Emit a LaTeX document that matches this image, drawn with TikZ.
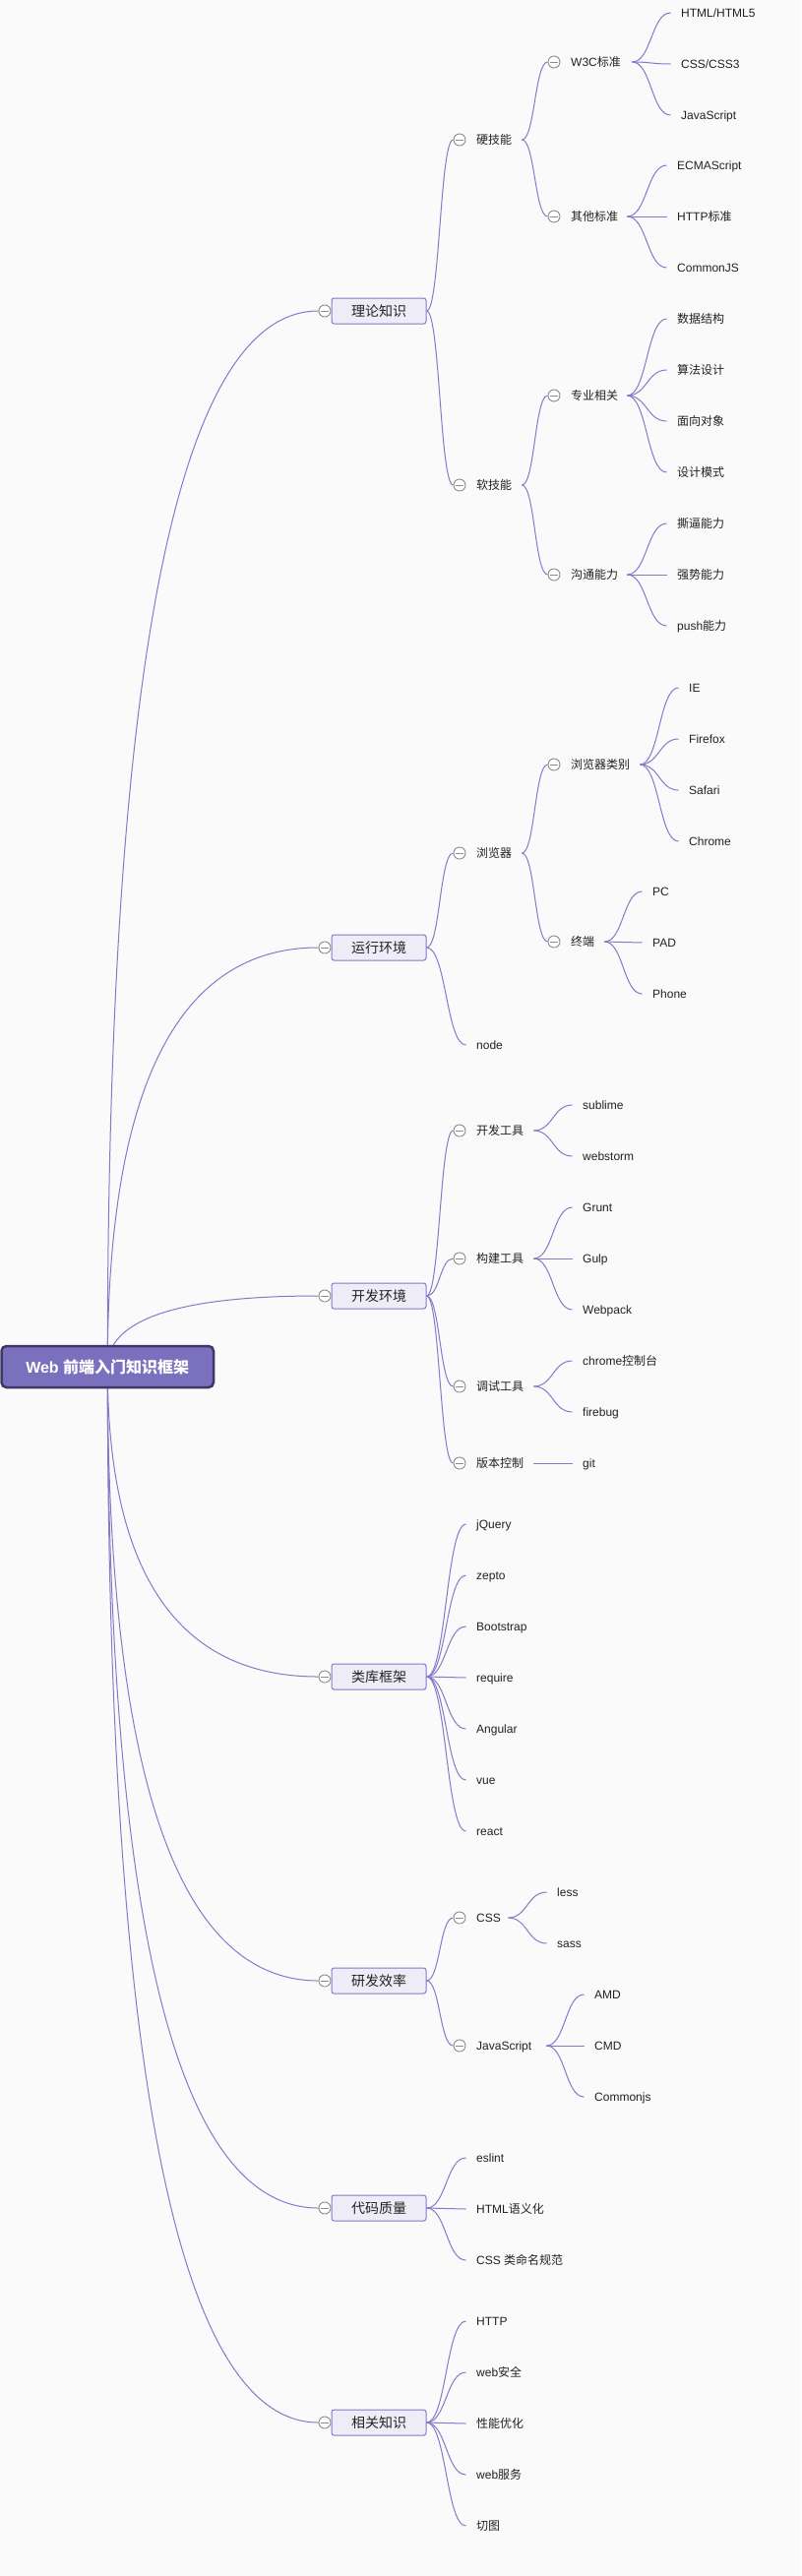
\documentclass[tikz,border=0pt]{standalone}
\usepackage{fontspec}
\setmainfont{Liberation Sans}
\newfontfamily\cjk{Noto Sans CJK SC}
\newcommand\zh[1]{{\cjk #1}}
\usetikzlibrary{calc}
\pgfdeclarelayer{bg}
\pgfsetlayers{bg,main}
\definecolor{bgc}{HTML}{FAFAFA}
\definecolor{linec}{HTML}{8379C9}
\definecolor{boxfill}{HTML}{EEEDF7}
\definecolor{boxborder}{HTML}{8379C9}
\definecolor{rootfill}{HTML}{7A70BE}
\definecolor{rootborder}{HTML}{3E3868}
\definecolor{togc}{HTML}{8C8C8C}
\definecolor{txt}{HTML}{222222}
\tikzset{
  conn/.style={draw=linec, line width=1pt},
  rootbox/.style={draw=rootborder, fill=rootfill, line width=2.5pt, rounded corners=5pt,
    minimum width=215.5pt, minimum height=42pt, inner sep=0pt, text=white,
    font=\fontsize{16}{18}\selectfont\bfseries},
  lvone/.style={draw=boxborder, fill=boxfill, line width=1pt, rounded corners=2.5pt,
    minimum width=96pt, minimum height=26pt, inner sep=0pt, text=txt,
    font=\fontsize{14}{16}\selectfont},
  toggle/.style={circle, draw=togc, fill=white, minimum size=12pt, inner sep=0pt, line width=0.9pt},
  midlbl/.style={anchor=west, inner sep=0pt, align=left, text=txt,
    font=\fontsize{12}{14}\selectfont, text height=8.6pt, text depth=0pt},
  leaflbl/.style={anchor=west, inner xsep=10.5pt, inner ysep=0pt, text=txt,
    font=\fontsize{12}{14}\selectfont, text height=8.6pt, text depth=0pt},
}
\newcommand\brc[2]{\draw[conn] (#1) .. controls ($(#1)!0.5!(#1 -| #2)$) and ($(#2)!0.5!(#2 -| #1)$) .. (#2);}
\newcommand\rarc[1]{\draw[conn] (root.center) .. controls ($(root.center)!0.6667!(root.center |- #1)$) and ($(#1)!0.6667!(root.center |- #1)$) .. (#1);}
\newcommand\tgl[3]{%
  \node[toggle] (#1) at (#2,#3) {};
  \draw[togc, line width=0.9pt] ([xshift=-4pt]#1.center) -- ([xshift=4pt]#1.center);}
\newcommand\lvl[3]{%
  \node[lvone] (#1) at (385,#2) {\zh{#3}};
  \tgl{t#1}{330}{#2}
  \begin{pgfonlayer}{bg}\rarc{t#1.west}\end{pgfonlayer}}
\newcommand\branch[7]{%
  \tgl{t#1}{#2}{#4}
  \node[midlbl, text width=#5pt] (#1) at (#3,#4) {#6};
  \begin{pgfonlayer}{bg}\brc{#7.east}{t#1.west}\end{pgfonlayer}}
\newcommand\leaf[5]{%
  \node[leaflbl] (#1) at (#2-10.5,#3) {#4};
  \begin{pgfonlayer}{bg}\brc{#5.east}{#1.west}\end{pgfonlayer}}
\begin{document}
\begin{tikzpicture}[x=1pt, y=-1pt]
\useasboundingbox (0,0) rectangle (814,2618);
\begin{pgfonlayer}{bg}
  \fill[bgc] (0,0) rectangle (814,2618);
\end{pgfonlayer}
\node[rootbox] (root) at (109.25,1389) {Web \zh{前端入门知识框架}};

% level 1
\lvl{A}{316}{理论知识}
\lvl{B}{963}{运行环境}
\lvl{C}{1317}{开发环境}
\lvl{D}{1704}{类库框架}
\lvl{E}{2013}{研发效率}
\lvl{F}{2244}{代码质量}
\lvl{G}{2462}{相关知识}

% 理论知识
\branch{a1}{467}{484}{142}{46}{\zh{硬技能}}{A}
\branch{a2}{467}{484}{493}{46}{\zh{软技能}}{A}
\branch{a1a}{563}{580}{63}{62}{W3C\zh{标准}}{a1}
\branch{a1b}{563}{580}{220}{57}{\zh{其他标准}}{a1}
\branch{a2a}{563}{580}{402}{57}{\zh{专业相关}}{a2}
\branch{a2b}{563}{580}{584}{57}{\zh{沟通能力}}{a2}
\leaf{la1}{692}{13}{HTML/HTML5}{a1a}
\leaf{la2}{692}{65}{CSS/CSS3}{a1a}
\leaf{la3}{692}{117}{JavaScript}{a1a}
\leaf{la4}{688}{168}{ECMAScript}{a1b}
\leaf{la5}{688}{220}{HTTP\zh{标准}}{a1b}
\leaf{la6}{688}{272}{CommonJS}{a1b}
\leaf{la7}{688}{324}{\zh{数据结构}}{a2a}
\leaf{la8}{688}{376}{\zh{算法设计}}{a2a}
\leaf{la9}{688}{428}{\zh{面向对象}}{a2a}
\leaf{la10}{688}{480}{\zh{设计模式}}{a2a}
\leaf{la11}{688}{532}{\zh{撕逼能力}}{a2b}
\leaf{la12}{688}{584}{\zh{强势能力}}{a2b}
\leaf{la13}{688}{636}{push\zh{能力}}{a2b}

% 运行环境
\branch{b1}{467}{484}{867}{46}{\zh{浏览器}}{B}
\branch{b1a}{563}{580}{777}{70}{\zh{浏览器类别}}{b1}
\branch{b1b}{563}{580}{957}{34}{\zh{终端}}{b1}
\leaf{lb1}{700}{699}{IE}{b1a}
\leaf{lb2}{700}{751}{Firefox}{b1a}
\leaf{lb3}{700}{803}{Safari}{b1a}
\leaf{lb4}{700}{855}{Chrome}{b1a}
\leaf{lb5}{663}{906}{PC}{b1b}
\leaf{lb6}{663}{958}{PAD}{b1b}
\leaf{lb7}{663}{1010}{Phone}{b1b}
\leaf{lb8}{484}{1062}{node}{B}

% 开发环境
\branch{c1}{467}{484}{1149}{58}{\zh{开发工具}}{C}
\branch{c2}{467}{484}{1279}{58}{\zh{构建工具}}{C}
\branch{c3}{467}{484}{1409}{58}{\zh{调试工具}}{C}
\branch{c4}{467}{484}{1487}{58}{\zh{版本控制}}{C}
\leaf{lc1}{592}{1123}{sublime}{c1}
\leaf{lc2}{592}{1175}{webstorm}{c1}
\leaf{lc3}{592}{1227}{Grunt}{c2}
\leaf{lc4}{592}{1279}{Gulp}{c2}
\leaf{lc5}{592}{1331}{Webpack}{c2}
\leaf{lc6}{592}{1383}{chrome\zh{控制台}}{c3}
\leaf{lc7}{592}{1435}{firebug}{c3}
\leaf{lc8}{592}{1487}{git}{c4}

% 类库框架
\leaf{ld1}{484}{1549}{jQuery}{D}
\leaf{ld2}{484}{1601}{zepto}{D}
\leaf{ld3}{484}{1653}{Bootstrap}{D}
\leaf{ld4}{484}{1705}{require}{D}
\leaf{ld5}{484}{1757}{Angular}{D}
\leaf{ld6}{484}{1809}{vue}{D}
\leaf{ld7}{484}{1861}{react}{D}

% 研发效率
\branch{e1}{467}{484}{1949}{32}{CSS}{E}
\branch{e2}{467}{484}{2079}{71}{JavaScript}{E}
\leaf{le1}{566}{1923}{less}{e1}
\leaf{le2}{566}{1975}{sass}{e1}
\leaf{le3}{604}{2027}{AMD}{e2}
\leaf{le4}{604}{2079}{CMD}{e2}
\leaf{le5}{604}{2131}{Commonjs}{e2}

% 代码质量
\leaf{lf1}{484}{2193}{eslint}{F}
\leaf{lf2}{484}{2245}{HTML\zh{语义化}}{F}
\leaf{lf3}{484}{2297}{CSS \zh{类命名规范}}{F}

% 相关知识
\leaf{lg1}{484}{2359}{HTTP}{G}
\leaf{lg2}{484}{2411}{web\zh{安全}}{G}
\leaf{lg3}{484}{2463}{\zh{性能优化}}{G}
\leaf{lg4}{484}{2515}{web\zh{服务}}{G}
\leaf{lg5}{484}{2567}{\zh{切图}}{G}
\end{tikzpicture}
\end{document}
